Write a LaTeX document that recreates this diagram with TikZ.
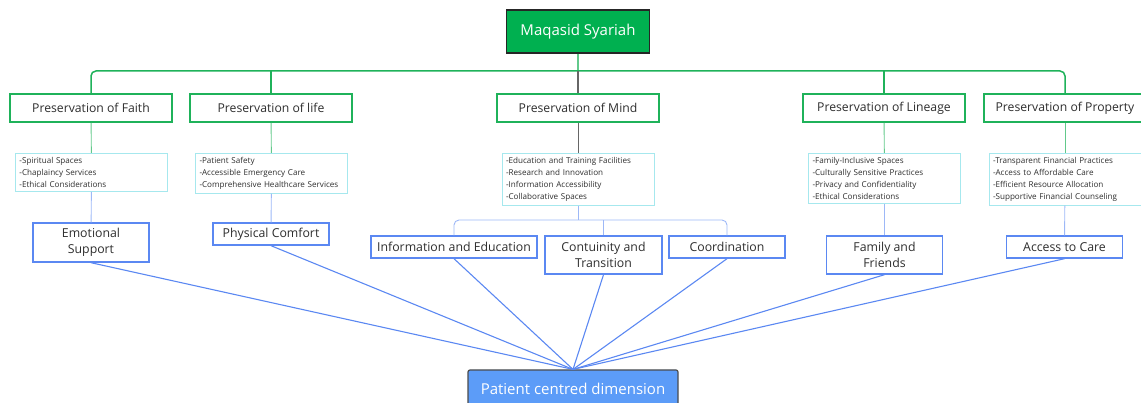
\documentclass[tikz,border=0pt]{standalone}
\usepackage{fontspec}
\setmainfont{Open Sans}
\usetikzlibrary{positioning}
\definecolor{rootgreen}{HTML}{00B050}
\definecolor{pillargreen}{HTML}{1FB25A}
\definecolor{dimblue}{HTML}{5B88F2}
\definecolor{pcdblue}{HTML}{5C9CF8}
\definecolor{listedge}{HTML}{A6E8EE}
\definecolor{inktext}{HTML}{2E2E2E}
\tikzset{
	x=1pt, y=-1pt,
	root/.style = {draw=black!85, line width=1.6pt, fill=rootgreen, text=white,
		minimum width=143pt, minimum height=43pt, inner sep=0pt, font=\fontsize{15}{18}\selectfont},
	pillar/.style = {draw=pillargreen, line width=1.6pt, fill=white, text=inktext,
		minimum width=162pt, minimum height=28pt, inner sep=0pt, font=\fontsize{12.2}{14}\selectfont},
	itemlist/.style = {draw=listedge, line width=0.6pt, fill=white, text=inktext, align=left,
		text width=144pt, inner sep=4pt, font=\fontsize{8.1}{12}\selectfont},
	dim/.style = {draw=dimblue, line width=1.4pt, fill=white, text=inktext, align=center,
		minimum width=116pt, minimum height=22pt, inner sep=0pt, font=\fontsize{12.3}{16.5}\selectfont},
	pcd/.style = {draw=black!70, line width=1.2pt, rounded corners=2pt, fill=pcdblue, text=white,
		minimum width=210pt, minimum height=38pt, inner sep=0pt, font=\fontsize{15}{18}\selectfont},
	tree/.style = {draw=pillargreen, line width=1.5pt, rounded corners=5pt},
	stem/.style = {draw=pillargreen!70, line width=0.9pt},
	graystem/.style = {draw=black!60, line width=1.2pt},
	bluestem/.style = {draw=dimblue!60, line width=0.9pt},
	spoke/.style = {draw=dimblue, line width=1.1pt}
}
\begin{document}
\begin{tikzpicture}
	\useasboundingbox (0,0) rectangle (1141,403);
	\clip (0,0) rectangle (1141,403);
	% root
	\node[root] (maq) at (578,31.5) {Maqasid Syariah};
	% the five maqasid
	\node[pillar] (faith) at (91,108) {Preservation of Faith};
	\node[pillar] (life) at (271,108) {Preservation of life};
	\node[pillar] (mind) at (578,108) {Preservation of Mind};
	\node[pillar] (lineage) at (884,108) {Preservation of Lineage};
	\node[pillar] (property) at (1065,108) {Preservation of Property};
	% lists
	\node[itemlist, anchor=north] (faithl) at (91.5,153) {-Spiritual Spaces\\-Chaplaincy Services\\-Ethical Considerations};
	\node[itemlist, anchor=north] (lifel) at (271.5,153) {-Patient Safety\\-Accessible Emergency Care\\-Comprehensive Healthcare Services};
	\node[itemlist, anchor=north] (mindl) at (578,153) {-Education and Training Facilities\\-Research and Innovation\\-Information Accessibility\\-Collaborative Spaces};
	\node[itemlist, anchor=north] (lineagel) at (884.5,153) {-Family-Inclusive Spaces\\-Culturally Sensitive Practices\\-Privacy and Confidentiality\\-Ethical Considerations};
	\node[itemlist, anchor=north] (propertyl) at (1065,153) {-Transparent Financial Practices\\-Access to Affordable Care\\-Efficient Resource Allocation\\-Supportive Financial Counseling};
	% patient centred dimensions
	\node[dim, minimum height=39pt] (emo) at (91,242.5) {Emotional\\Support};
	\node[dim] (phys) at (271,234) {Physical Comfort};
	\node[dim, minimum width=166pt] (info) at (454,247) {Information and Education};
	\node[dim, minimum width=117pt, minimum height=38pt] (cont) at (603.5,255) {Contuinity and\\Transition};
	\node[dim] (coord) at (727,247) {Coordination};
	\node[dim, minimum height=38pt] (fam) at (884.5,255) {Family and\\Friends};
	\node[dim] (access) at (1064.5,247) {Access to Care};
	\node[pcd] (pcdim) at (573,389) {Patient centred dimension};
	% tree
	\coordinate (hub) at (578,71);
	\draw[stem, line width=1.5pt] (maq.south) -- (hub);
	\draw[tree] (faith.north) |- (hub) -| (property.north);
	\draw[tree] (life.north) -- (life.north |- hub);
	\draw[tree] (lineage.north) -- (lineage.north |- hub);
	\draw[graystem] (hub) -- (mind.north);
	\draw[stem] (faith) -- (faithl);
	\draw[stem] (life) -- (lifel);
	\draw[graystem, line width=0.9pt] (mind) -- (mindl);
	\draw[stem] (lineage) -- (lineagel);
	\draw[stem] (property) -- (propertyl);
	\draw[bluestem] (faithl) -- (emo);
	\draw[bluestem] (lifel) -- (phys);
	\draw[bluestem] (lineagel) -- (fam);
	\draw[bluestem] (propertyl) -- (access);
	\coordinate (mindhub) at (578,220);
	\draw[bluestem] (mindl) -- (mindhub);
	\draw[bluestem, rounded corners=5pt] (info.north) |- (mindhub) -| (coord.north);
	\draw[bluestem] (cont.north) -- (cont.north |- mindhub);
	% spokes
	\foreach \d in {emo,phys,info,cont,coord,fam,access}
		\draw[spoke] (\d.south) -- (pcdim.north);
\end{tikzpicture}
\end{document}
